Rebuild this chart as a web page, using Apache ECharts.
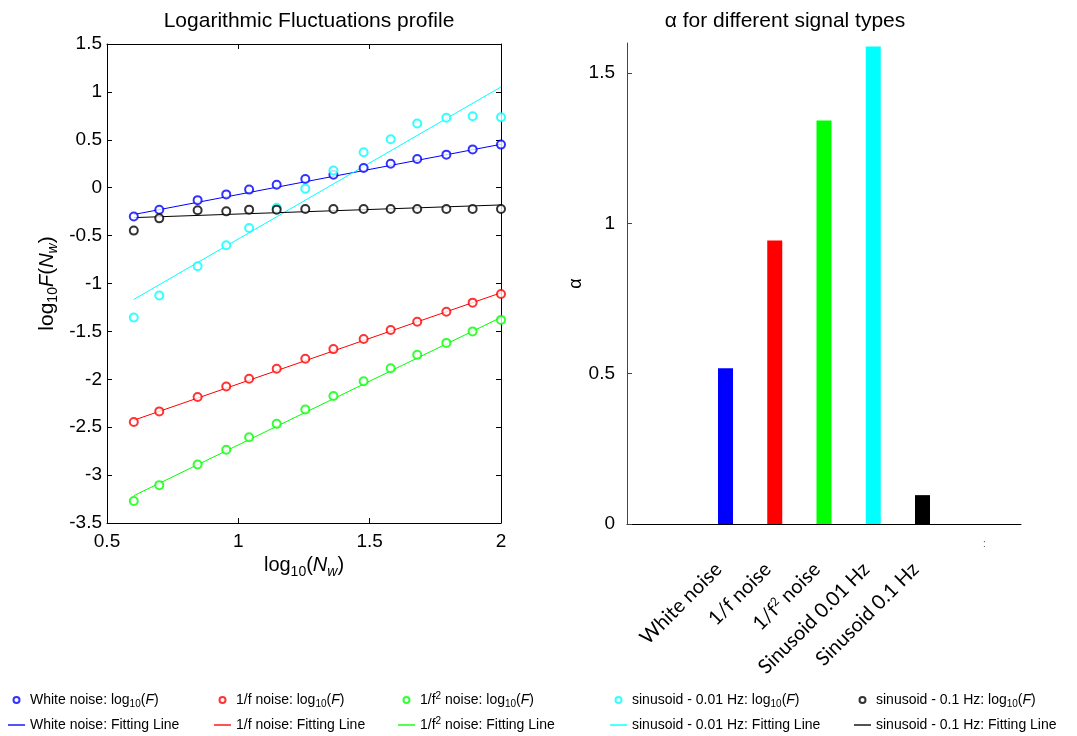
<!DOCTYPE html>
<html>
<head>
<meta charset="utf-8">
<script src="https://cdn.jsdelivr.net/npm/echarts@6/dist/echarts.min.js"></script>
<style>
  html, body { margin: 0; padding: 0; background: #fff; }
  #main { width: 1077px; height: 736px; }
</style>
</head>
<body>
<div id="main"></div>
<script>
(function () {
    'use strict';

    // log10 of window sizes (x of the fluctuation profile)
    var windowLog = [0.602, 0.699, 0.845, 0.954, 1.041, 1.146, 1.255, 1.362, 1.477, 1.580, 1.681, 1.792, 1.892, 2.0];

    // log10(F) for each signal
    var whiteF = [-0.30, -0.23, -0.13, -0.07, -0.02, 0.03, 0.09, 0.135, 0.205, 0.25, 0.30, 0.345, 0.40, 0.45];
    var pinkF = [-2.445, -2.335, -2.185, -2.075, -1.995, -1.89, -1.785, -1.685, -1.58, -1.485, -1.40, -1.295, -1.20, -1.11];
    var brownF = [-3.27, -3.105, -2.89, -2.735, -2.605, -2.465, -2.315, -2.175, -2.02, -1.885, -1.745, -1.62, -1.50, -1.38];
    var sin001F = [-1.355, -1.125, -0.82, -0.60, -0.42, -0.21, -0.01, 0.18, 0.37, 0.505, 0.67, 0.73, 0.745, 0.735];
    var sin01F = [-0.448, -0.32, -0.236, -0.247, -0.229, -0.229, -0.222, -0.222, -0.222, -0.222, -0.222, -0.222, -0.222, -0.222];

    // fitting lines, start / end points
    var whiteFit = [[0.602, -0.28], [2.0, 0.453]];
    var pinkFit = [[0.602, -2.427], [2.0, -1.097]];
    var brownFit = [[0.602, -3.215], [2.0, -1.354]];
    var sin001Fit = [[0.602, -1.167], [2.0, 1.052]];
    var sin01Fit = [[0.602, -0.3125], [2.0, -0.18]];

    // alpha bar chart
    var signalTypes = ['White noise', '1/f noise', '1/f{sup|2} noise', 'Sinusoid 0.01 Hz', 'Sinusoid 0.1 Hz'];
    var signalPos = [2, 3, 4, 5, 6];
    var alphaValues = [0.518, 0.943, 1.342, 1.588, 0.096];

    var colors = ['#0000ff', '#ff0000', '#00ff00', '#00ffff', '#000000'];
    var pointNames = [
        'White noise: log10(F)', '1/f noise: log10(F)', '1/f2 noise: log10(F)',
        'sinusoid - 0.01 Hz: log10(F)', 'sinusoid - 0.1 Hz: log10(F)'
    ];
    var lineNames = [
        'White noise: Fitting Line', '1/f noise: Fitting Line', '1/f2 noise: Fitting Line',
        'sinusoid - 0.01 Hz: Fitting Line', 'sinusoid - 0.1 Hz: Fitting Line'
    ];
    var legendLeft = [3, 209, 393, 605, 849];

    var FONT = 'Liberation Sans, Arial, sans-serif';

    function pairs(xs, ys) {
        return xs.map(function (x, i) { return [x, ys[i]]; });
    }

    function legendText(name) {
        return name
            .replace('1/f2', '1/f{sup|2}')
            .replace('log10(F)', 'log{sub|10}({it|F})');
    }

    var pointSets = [whiteF, pinkF, brownF, sin001F, sin01F];
    var fitSets = [whiteFit, pinkFit, brownFit, sin001Fit, sin01Fit];

    var series = [];
    pointSets.forEach(function (ys, i) {
        series.push({
            name: pointNames[i],
            type: 'scatter',
            xAxisIndex: 0,
            yAxisIndex: 0,
            symbol: 'emptyCircle',
            symbolSize: 8,
            itemStyle: { color: colors[i], borderColor: colors[i], borderWidth: 1 },
            data: pairs(windowLog, ys),
            z: 3
        });
        series.push({
            name: lineNames[i],
            type: 'line',
            xAxisIndex: 0,
            yAxisIndex: 0,
            symbol: 'none',
            lineStyle: { color: colors[i], width: 1 },
            itemStyle: { color: colors[i] },
            data: fitSets[i],
            z: 2
        });
    });

    series.push({
        type: 'bar',
        xAxisIndex: 2,
        yAxisIndex: 2,
        barWidth: 15,
        data: alphaValues.map(function (v, i) {
            return { value: [signalPos[i], v], itemStyle: { color: colors[i] } };
        })
    });

    var legends = legendLeft.map(function (left, i) {
        return {
            orient: 'vertical',
            left: left,
            top: 686,
            height: 48,
            itemWidth: 17,
            itemHeight: 6,
            itemGap: 7,
            selectedMode: false,
            data: [
                {
                    name: pointNames[i], icon: 'emptyCircle',
                    itemStyle: { color: colors[i], borderColor: colors[i], borderWidth: 1 }
                },
                {
                    name: lineNames[i], icon: 'path://M0,0L20,0L20,1.6L0,1.6Z',
                    itemStyle: { color: colors[i], borderWidth: 0 }
                }
            ],
            formatter: legendText,
            textStyle: {
                fontFamily: FONT,
                fontSize: 14,
                lineHeight: 18,
                color: '#000',
                rich: {
                    sub: { fontFamily: FONT, fontSize: 10, lineHeight: 10, verticalAlign: 'bottom' },
                    sup: { fontFamily: FONT, fontSize: 10, lineHeight: 10, verticalAlign: 'top' },
                    it: { fontFamily: FONT, fontSize: 14, lineHeight: 18, fontStyle: 'italic' }
                }
            }
        };
    });

    var axisLine = { show: true, onZero: false, lineStyle: { color: '#000', width: 1 } };
    var tickIn = { show: true, inside: true, length: 5, lineStyle: { color: '#000' } };
    var tickLabel = { fontFamily: FONT, fontSize: 19, color: '#000' };
    var nameRich = {
        sub: { fontFamily: FONT, fontSize: 14, padding: [12, 0, 0, 0] },
        subit: { fontFamily: FONT, fontSize: 14, fontStyle: 'italic', padding: [12, 0, 0, 0] },
        it: { fontFamily: FONT, fontSize: 20, fontStyle: 'italic' }
    };

    var option = {
        backgroundColor: '#fff',
        animation: false,
        title: [
            {
                text: 'Logarithmic Fluctuations profile',
                left: 304, top: 6, textAlign: 'center',
                textStyle: { fontFamily: FONT, fontSize: 21, fontWeight: 'normal', color: '#000' }
            },
            {
                text: 'α for different signal types',
                left: 780, top: 6, textAlign: 'center',
                textStyle: { fontFamily: FONT, fontSize: 21, fontWeight: 'normal', color: '#000' }
            }
        ],
        legend: legends,
        grid: [
            { left: 107, top: 44, width: 394, height: 479, show: false },
            { left: 627, top: 43, width: 394, height: 481, show: false }
        ],
        xAxis: [
            {
                gridIndex: 0, type: 'value', min: 0.5, max: 2, interval: 0.5,
                name: 'log{sub|10}({it|N}{subit|w})',
                nameLocation: 'middle', nameGap: 27,
                nameTextStyle: { fontFamily: FONT, fontSize: 20, color: '#000', rich: nameRich },
                axisLine: axisLine, axisTick: tickIn,
                axisLabel: Object.assign({ margin: 9 }, tickLabel),
                splitLine: { show: false }
            },
            {
                gridIndex: 0, type: 'value', min: 0.5, max: 2, interval: 0.5, position: 'top',
                axisLine: axisLine, axisTick: tickIn, axisLabel: { show: false },
                splitLine: { show: false }
            },
            {
                gridIndex: 1, type: 'value', min: 0, max: 8,
                axisLine: axisLine,
                axisTick: { show: false },
                axisLabel: {
                    customValues: signalPos,
                    rotate: 45,
                    margin: 35,
                    padding: [0, 10, 0, 0],
                    fontFamily: 'Lato, sans-serif',
                    fontSize: 20,
                    color: '#000',
                    formatter: function (v) {
                        return signalTypes[signalPos.indexOf(v)] || '';
                    },
                    rich: {
                        sup: { fontFamily: 'Lato, sans-serif', fontSize: 12, padding: [0, 0, 9, 0] }
                    }
                },
                splitLine: { show: false }
            }
        ],
        yAxis: [
            {
                gridIndex: 0, type: 'value', min: -3.5, max: 1.5, interval: 0.5,
                name: 'log{sub|10}{it|F}({it|N}{subit|w})',
                nameLocation: 'middle', nameGap: 47,
                nameTextStyle: { fontFamily: FONT, fontSize: 21, color: '#000', rich: nameRich },
                axisLine: axisLine, axisTick: tickIn,
                axisLabel: Object.assign({ margin: 5 }, tickLabel),
                splitLine: { show: false }
            },
            {
                gridIndex: 0, type: 'value', min: -3.5, max: 1.5, interval: 0.5, position: 'right',
                axisLine: axisLine, axisTick: tickIn, axisLabel: { show: false },
                splitLine: { show: false }
            },
            {
                gridIndex: 1, type: 'value', min: 0, max: 1.6,
                name: 'α',
                nameLocation: 'middle', nameGap: 38,
                nameTextStyle: { fontFamily: FONT, fontSize: 18, color: '#000' },
                axisLine: { show: true, onZero: false, lineStyle: { color: '#444', width: 1 } },
                axisTick: {
                    show: true, inside: true, length: 5,
                    customValues: [0, 0.5, 1, 1.5],
                    lineStyle: { color: '#444' }
                },
                axisLabel: Object.assign({ margin: 12, customValues: [0, 0.5, 1, 1.5] }, tickLabel),
                splitLine: { show: false }
            }
        ],
        graphic: [
            {
                type: 'text', left: 983, top: 539,
                style: { text: ':', fontSize: 10, fill: '#555' }
            }
        ],
        series: series
    };

    var myChart = echarts.init(document.getElementById('main'));
    myChart.setOption(option);
}());
</script>
</body>
</html>
